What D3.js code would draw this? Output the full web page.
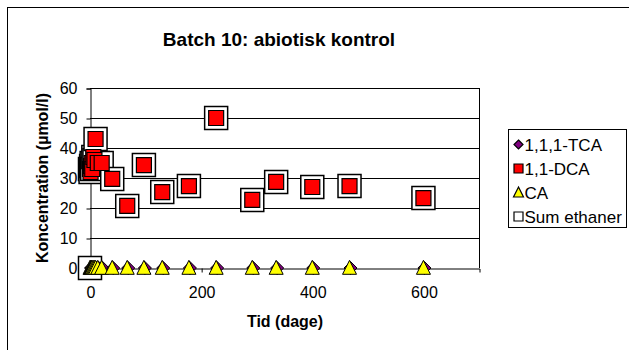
<!DOCTYPE html>
<html>
<head>
<meta charset="utf-8">
<script src="https://cdn.jsdelivr.net/npm/d3@7"></script>
<style>
  body { margin: 0; background: #fff; }
  text { font-family: "Liberation Sans", Arial, sans-serif; }
</style>
</head>
<body>
<svg id="chart" width="629" height="350"></svg>
<script>
// sampling times (days)
const times = [0, 1, 2, 3, 4, 6, 8, 10, 14, 21, 40, 67, 97, 130, 178, 227, 292, 335, 400, 467, 600];
const tca = [0, 0, 0, 0, 0, 0, 0, 0, 0, 0, 0, 0, 0, 0, 0, 0, 0, 0, 0, 0, 0];
const dca = [33, 32, 34, 35, 33, 37, 36, 43, 35, 35, 29.7, 20.7, 34.3, 25.3, 27.3, 50, 22.7, 28.7, 27, 27.3, 23.3];
const ca = [0, 0, 0, 0, 0, 0, 0, 0, 0, 0, 0, 0, 0, 0, 0, 0, 0, 0, 0, 0, 0];
const sumTimes = [0, 0, 1, 2, 3, 4, 6, 8, 10, 14, 21, 40, 67, 97, 130, 178, 227, 292, 335, 400, 467, 600];
const sumEthaner = [0, 33, 32, 34, 35, 33, 37, 36, 43, 35, 35, 29.7, 20.7, 34.3, 25.3, 27.3, 50, 22.7, 28.7, 27, 27.3, 23.3];
const xTicks = [0, 200, 400, 600];
const yTicks = [0, 10, 20, 30, 40, 50, 60];
const seriesNames = ['1,1,1-TCA', '1,1-DCA', 'CA', 'Sum ethaner'];

const svg = d3.select('#chart');
const margin = { left: 90, top: 88, right: 150, bottom: 82 };
const width = 629 - margin.left - margin.right;
const height = 350 - margin.top - margin.bottom;

// outer chart frame (cut off at right/bottom)
svg.append('rect')
  .attr('x', 7.5).attr('y', 7.5)
  .attr('width', 700).attr('height', 400)
  .attr('fill', '#fff').attr('stroke', '#000');

svg.append('text')
  .attr('x', 279).attr('y', 46)
  .attr('text-anchor', 'middle')
  .style('font-size', '19px').style('font-weight', 'bold')
  .text('Batch 10: abiotisk kontrol');

const g = svg.append('g').attr('transform', `translate(${margin.left},${margin.top})`);

const x = d3.scaleLinear().domain([0, 700]).range([0, width]);
const y = d3.scaleLinear().domain([0, 60]).range([height, 0]);

// gridlines
g.selectAll('.grid')
  .data(yTicks.slice(1))
  .enter().append('line')
  .attr('x1', 0).attr('x2', width)
  .attr('y1', d => Math.round(y(d)) + 0.5).attr('y2', d => Math.round(y(d)) + 0.5)
  .attr('stroke', '#000').attr('stroke-width', 1);

// right border
g.append('line')
  .attr('x1', width + 0.5).attr('x2', width + 0.5)
  .attr('y1', 0).attr('y2', height)
  .attr('stroke', '#000');

const yAxis = g.append('g')
  .attr('transform', 'translate(0.5,0.5)')
  .call(d3.axisLeft(y).tickValues(yTicks).tickSize(4).tickPadding(9));
const xAxis = g.append('g')
  .attr('transform', `translate(0.5,${height + 0.5})`)
  .call(d3.axisBottom(x).tickValues(xTicks).tickSize(4).tickPadding(14));
[xAxis, yAxis].forEach(a => {
  a.select('.domain').attr('stroke', '#000');
  a.selectAll('line').attr('stroke', '#000');
  a.selectAll('text').style('font-size', '16px').attr('fill', '#000')
    .style('font-family', '"Liberation Sans", Arial, sans-serif');
});

// axis titles
svg.append('text')
  .attr('x', 285).attr('y', 327)
  .attr('text-anchor', 'middle')
  .style('font-size', '16px').style('font-weight', 'bold')
  .text('Tid (dage)');
svg.append('text')
  .attr('transform', `translate(48,${margin.top + height / 2}) rotate(-90)`)
  .attr('text-anchor', 'middle')
  .style('font-size', '16px').style('font-weight', 'bold')
  .text('Koncentration (µmol/l)');

const sq = (s) => `M${-s / 2},${-s / 2}h${s}v${s}h${-s}Z`;
const diamond = (s) => `M0,${-s / 2}L${s / 2},0L0,${s / 2}L${-s / 2},0Z`;
const tri = (s) => `M0,${-s * 0.55}L${s / 2},${s * 0.45}L${-s / 2},${s * 0.45}Z`;

// Sum ethaner (behind)
g.selectAll('.sum')
  .data(sumTimes.map((t, i) => [t, sumEthaner[i]]))
  .enter().append('path')
  .attr('transform', d => `translate(${x(d[0])},${y(d[1])})`)
  .attr('d', sq(23))
  .attr('fill', '#fff').attr('stroke', '#000').attr('stroke-width', 1.5);

// 1,1,1-TCA
g.selectAll('.tca')
  .data(times.map((t, i) => [t, tca[i]]))
  .enter().append('path')
  .attr('transform', d => `translate(${x(d[0]) + 1},${y(d[1])})`)
  .attr('d', diamond(13))
  .attr('fill', '#800080').attr('stroke', '#000').attr('stroke-width', 1);

// 1,1-DCA
g.selectAll('.dca')
  .data(times.map((t, i) => [t, dca[i]]))
  .enter().append('path')
  .attr('transform', d => `translate(${x(d[0])},${y(d[1])})`)
  .attr('d', sq(15))
  .attr('fill', '#ff0000').attr('stroke', '#000').attr('stroke-width', 1.2);

// CA
g.selectAll('.ca')
  .data(times.map((t, i) => [t, ca[i]]))
  .enter().append('path')
  .attr('transform', d => `translate(${x(d[0])},${y(d[1])})`)
  .attr('d', tri(14))
  .attr('fill', '#ffff00').attr('stroke', '#000').attr('stroke-width', 1);

// legend
const lg = svg.append('g').attr('transform', 'translate(508.5,129.5)');
lg.append('rect').attr('width', 118).attr('height', 98)
  .attr('fill', '#fff').attr('stroke', '#000');
const legendShapes = [
  { d: diamond(9), fill: '#800080' },
  { d: sq(9), fill: '#ff0000' },
  { d: tri(10), fill: '#ffff00' },
  { d: sq(9), fill: '#fff' }
];
seriesNames.forEach((name, i) => {
  const row = lg.append('g').attr('transform', `translate(0,${15 + i * 24})`);
  row.append('path').attr('transform', 'translate(10,0)')
    .attr('d', legendShapes[i].d)
    .attr('fill', legendShapes[i].fill).attr('stroke', '#000').attr('stroke-width', 1.2);
  row.append('text').attr('x', 16).attr('y', 6)
    .style('font-size', '17px')
    .text(name);
});
</script>
</body>
</html>
